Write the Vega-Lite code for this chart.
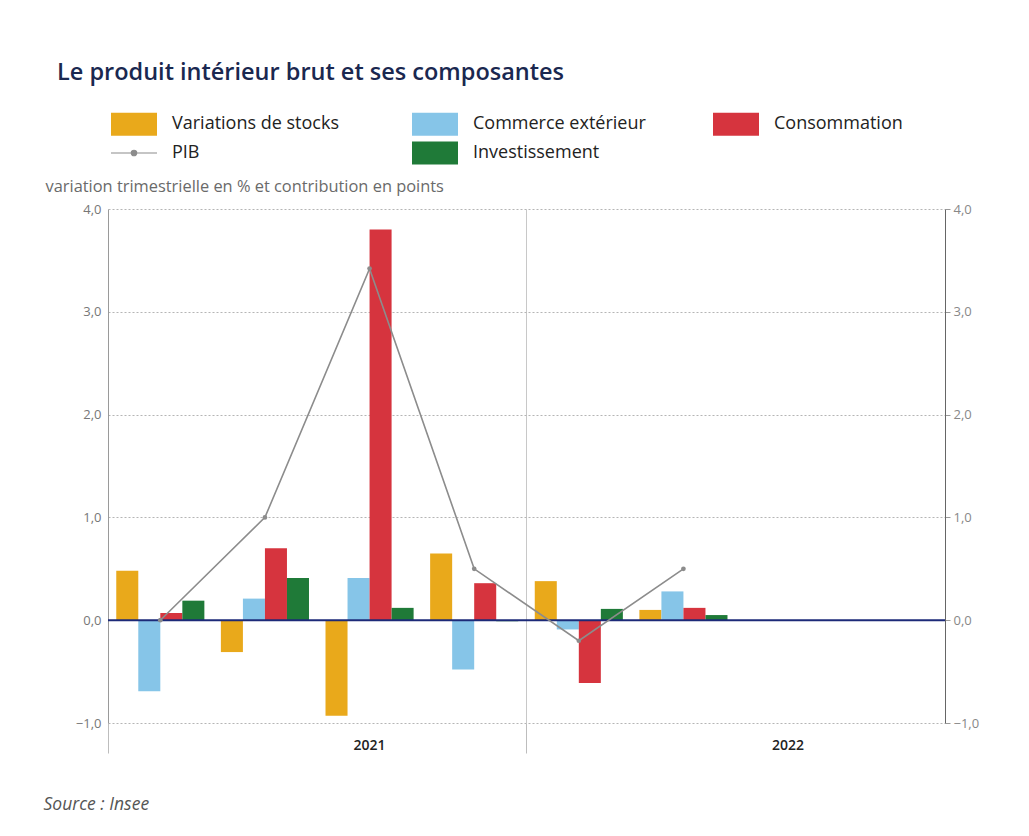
{
  "$schema": "https://vega.github.io/schema/vega-lite/v6.json",
  "width": 837,
  "height": 514,
  "autosize": "none",
  "padding": {"left": 108, "top": 209, "right": 84, "bottom": 113},
  "background": "white",
  "config": {
    "view": {"stroke": null},
    "font": "Open Sans"
  },
  "title": {
    "text": "Le produit intérieur brut et ses composantes",
    "anchor": "start",
    "frame": "group",
    "dx": -51,
    "offset": 31,
    "fontSize": 23.5,
    "fontWeight": 600,
    "color": "#1a2850",
    "font": "Open Sans"
  },
  "data": {
    "values": [
      {"trimestre": "2021T1", "serie": "Variations de stocks", "valeur": 0.48},
      {"trimestre": "2021T1", "serie": "Commerce extérieur", "valeur": -0.69},
      {"trimestre": "2021T1", "serie": "Consommation", "valeur": 0.07},
      {"trimestre": "2021T1", "serie": "Investissement", "valeur": 0.19},
      {"trimestre": "2021T1", "serie": "PIB", "valeur": 0.0},
      {"trimestre": "2021T2", "serie": "Variations de stocks", "valeur": -0.31},
      {"trimestre": "2021T2", "serie": "Commerce extérieur", "valeur": 0.21},
      {"trimestre": "2021T2", "serie": "Consommation", "valeur": 0.7},
      {"trimestre": "2021T2", "serie": "Investissement", "valeur": 0.41},
      {"trimestre": "2021T2", "serie": "PIB", "valeur": 1.0},
      {"trimestre": "2021T3", "serie": "Variations de stocks", "valeur": -0.93},
      {"trimestre": "2021T3", "serie": "Commerce extérieur", "valeur": 0.41},
      {"trimestre": "2021T3", "serie": "Consommation", "valeur": 3.8},
      {"trimestre": "2021T3", "serie": "Investissement", "valeur": 0.12},
      {"trimestre": "2021T3", "serie": "PIB", "valeur": 3.42},
      {"trimestre": "2021T4", "serie": "Variations de stocks", "valeur": 0.65},
      {"trimestre": "2021T4", "serie": "Commerce extérieur", "valeur": -0.48},
      {"trimestre": "2021T4", "serie": "Consommation", "valeur": 0.36},
      {"trimestre": "2021T4", "serie": "Investissement", "valeur": -0.01},
      {"trimestre": "2021T4", "serie": "PIB", "valeur": 0.5},
      {"trimestre": "2022T1", "serie": "Variations de stocks", "valeur": 0.38},
      {"trimestre": "2022T1", "serie": "Commerce extérieur", "valeur": -0.09},
      {"trimestre": "2022T1", "serie": "Consommation", "valeur": -0.61},
      {"trimestre": "2022T1", "serie": "Investissement", "valeur": 0.11},
      {"trimestre": "2022T1", "serie": "PIB", "valeur": -0.2},
      {"trimestre": "2022T2", "serie": "Variations de stocks", "valeur": 0.1},
      {"trimestre": "2022T2", "serie": "Commerce extérieur", "valeur": 0.28},
      {"trimestre": "2022T2", "serie": "Consommation", "valeur": 0.12},
      {"trimestre": "2022T2", "serie": "Investissement", "valeur": 0.05},
      {"trimestre": "2022T2", "serie": "PIB", "valeur": 0.5}
    ]
  },
  "layer": [
    {
      "transform": [{"filter": "datum.serie !== 'PIB'"}],
      "mark": {"type": "bar"},
      "encoding": {
        "x": {
          "field": "trimestre",
          "type": "ordinal",
          "scale": {"domain": ["2021T1", "2021T2", "2021T3", "2021T4", "2022T1", "2022T2", "2022T3", "2022T4"], "paddingInner": 0, "paddingOuter": 0},
          "axis": {
            "bandPosition": 0,
            "domain": false,
            "grid": true,
            "gridColor": "#c8c8c8",
            "gridWidth": 1,
            "gridOpacity": {"condition": {"test": "datum.value === '2022T1'", "value": 1}, "value": 0},
            "ticks": true,
            "tickSize": 30,
            "tickColor": "#bdbdbd",
            "tickOpacity": {"condition": {"test": "datum.value === '2021T1' || datum.value === '2022T1'", "value": 1}, "value": 0},
            "labelAngle": 0,
            "labelExpr": "datum.value === '2021T3' ? '2021' : (datum.value === '2022T3' ? '2022' : '')",
            "labelPadding": -15,
            "labelFontSize": 14,
            "labelFontWeight": 600,
            "labelColor": "#222222",
            "labelFont": "Open Sans",
            "title": "Source : Insee",
            "titleX": -65,
            "titleY": 86,
            "titleAlign": "left",
            "titleAnchor": "start",
            "titleBaseline": "alphabetic",
            "titleFont": "Open Sans",
            "titleFontStyle": "italic",
            "titleFontWeight": "normal",
            "titleFontSize": 17.5,
            "titleColor": "#555555"
          }
        },
        "xOffset": {
          "field": "serie",
          "type": "nominal",
          "sort": ["Variations de stocks", "Commerce extérieur", "Consommation", "Investissement"],
          "scale": {"paddingInner": 0, "paddingOuter": 0.375}
        },
        "y": {
          "field": "valeur",
          "type": "quantitative",
          "scale": {"domain": [-1, 4], "nice": false, "zero": false},
          "axis": {
            "orient": "left",
            "values": [-1, 0, 1, 2, 3, 4],
            "labelExpr": "replace(format(datum.value, '.1f'), '.', ',')",
            "domain": true,
            "domainColor": "#9a9a9a",
            "ticks": false,
            "labelPadding": 7,
            "labelFontSize": 13,
            "labelColor": "#777777",
            "labelFont": "Open Sans",
            "grid": true,
            "gridColor": "#b5b5b5",
            "gridDash": [2, 2],
            "gridWidth": 1,
            "title": "variation trimestrielle en % et contribution en points",
            "titleAngle": 0,
            "titleX": -63,
            "titleY": -18,
            "titleAlign": "left",
            "titleBaseline": "alphabetic",
            "titleFont": "Open Sans",
            "titleFontWeight": "normal",
            "titleFontSize": 16.4,
            "titleColor": "#6a6a6a"
          }
        },
        "color": {
          "field": "serie",
          "type": "nominal",
          "scale": {
            "domain": ["Variations de stocks", "Commerce extérieur", "Consommation", "PIB", "Investissement"],
            "range": ["#e9a91b", "#86c5e8", "#d6343e", "#8c8c8c", "#1f7a38"]
          },
          "legend": {
            "title": null,
            "orient": "none",
            "legendX": 2,
            "legendY": -94,
            "direction": "horizontal",
            "columns": 3,
            "gridAlign": "all",
            "columnPadding": 66,
            "rowPadding": 5,
            "symbolOffset": 15,
            "labelOffset": 29,
            "labelFontSize": 18,
            "labelColor": "#222222",
            "labelFont": "Open Sans",
            "labelLimit": 400,
            "symbolSize": 2116,
            "encode": {
              "symbols": {
                "update": {
                  "shape": {"signal": "datum.label === 'PIB' ? 'M-1,0H1M-0.12,0A0.12,0.12,0,1,0,0.12,0A0.12,0.12,0,1,0,-0.12,0Z' : 'M-1,-0.5H1V0.5H-1Z'"},
                  "strokeWidth": {"signal": "datum.label === 'PIB' ? 1.2 : 0"},
                  "fill": {"scale": "color", "field": "value"},
                  "stroke": {"scale": "color", "field": "value"},
                  "opacity": {"value": 1},
                  "fillOpacity": {"value": 1},
                  "size": {"value": 2116}
                }
              }
            }
          }
        }
      }
    },
    {
      "data": {"values": [{}]},
      "mark": {"type": "rule", "color": "#1c2a78", "strokeWidth": 2},
      "encoding": {
        "y": {
          "datum": 0,
          "type": "quantitative",
          "axis": {
            "orient": "right",
            "title": null,
            "values": [-1, 0, 1, 2, 3, 4],
            "labelExpr": "replace(format(datum.value, '.1f'), '.', ',')",
            "domain": true,
            "domainColor": "#666666",
            "ticks": true,
            "tickSize": 5,
            "tickColor": "#999999",
            "labelPadding": 3,
            "labelFontSize": 13,
            "labelColor": "#888888",
            "labelFont": "Open Sans",
            "grid": false
          }
        }
      }
    },
    {
      "transform": [{"filter": "datum.serie === 'PIB'"}],
      "mark": {"type": "line", "strokeWidth": 1.6, "point": {"filled": true, "size": 22}},
      "encoding": {
        "x": {
          "field": "trimestre",
          "type": "ordinal"
        },
        "y": {"field": "valeur", "type": "quantitative", "axis": null},
        "color": {"field": "serie", "type": "nominal"}
      }
    }
  ],
  "resolve": {"axis": {"y": "independent"}}
}
